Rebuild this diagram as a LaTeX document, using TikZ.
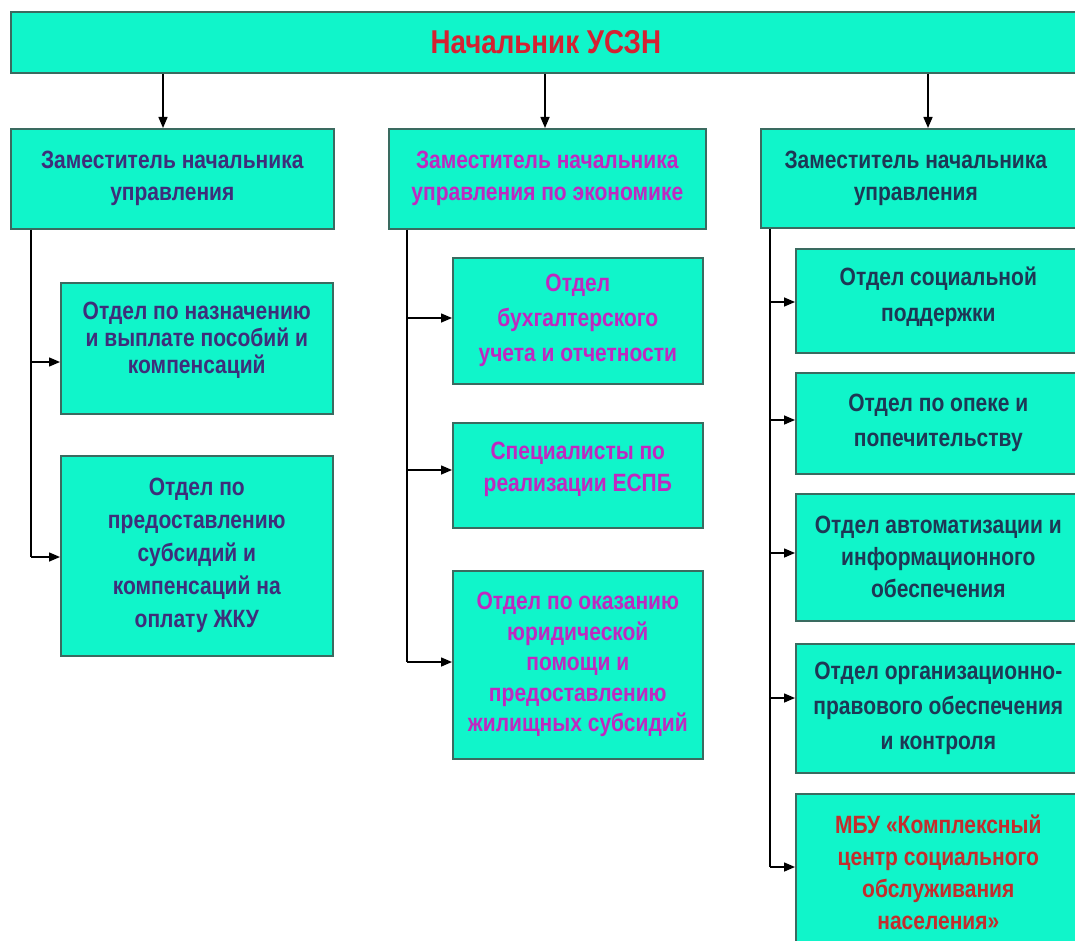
\documentclass[tikz,border=0pt]{standalone}
\usepackage{fontspec}
\setmainfont{Liberation Sans}[FakeStretch=0.84]
\usetikzlibrary{arrows.meta,calc}
\definecolor{fillc}{RGB}{16,245,202}
\definecolor{bordc}{RGB}{58,107,96}
\definecolor{navyc}{RGB}{62,46,122}
\definecolor{slatec}{RGB}{30,55,85}
\definecolor{magc}{RGB}{192,40,192}
\definecolor{redc}{RGB}{212,34,50}
\definecolor{mbuc}{RGB}{195,45,45}
\tikzset{
  box/.style={draw=bordc, line width=1.6pt, fill=fillc, inner sep=0pt,
    anchor=north west, align=center,
    font=\bfseries\fontsize{25}{32}\selectfont},
  lbl/.style={inner sep=0pt, align=center,
    font=\bfseries\fontsize{25}{32}\selectfont},
  conn/.style={line width=1.5pt, black},
  arr/.style={conn, -{Triangle[length=11pt,width=9pt]}}
}
\begin{document}
\begin{tikzpicture}[x=1pt,y=-1pt]
\useasboundingbox (0,0) rectangle (1075,941);
\clip (0,0) rectangle (1075,941);
\fill[white] (0,0) rectangle (1075,941);

% top
\node[box, minimum width=1080pt, minimum height=61pt, text=redc,
  font=\bfseries\fontsize{33}{38}\selectfont] (top) at (10,11) {\hspace*{-10pt}Начальник УСЗН};

% deputies
\node[box, minimum width=323pt, minimum height=100pt, text=navyc] (Z1) at (10,128)
  {Заместитель начальника\\управления};
\node[box, minimum width=317pt, minimum height=100pt, text=magc] (Z2) at (388,128)
  {Заместитель начальника\\управления по экономике};
\node[box, minimum width=320pt, minimum height=99pt, text=slatec] (Z3) at (760,128)
  {\hspace*{-10pt}Заместитель начальника\\\hspace*{-10pt}управления};

% left column
\node[box, minimum width=272pt, minimum height=131pt] (L1) at (60,282) {};
\node[lbl, text=navyc, font=\bfseries\fontsize{25}{27}\selectfont] (L1t)
  at ($(L1.center)+(0,-8)$)
  {Отдел по назначению\\и выплате пособий и\\компенсаций};
\node[box, minimum width=272pt, minimum height=200pt, text=navyc,
  font=\bfseries\fontsize{25}{33}\selectfont] (L2) at (60,455)
  {Отдел по\\предоставлению\\субсидий и\\компенсаций на\\оплату ЖКУ};

% middle column
\node[box, minimum width=250pt, minimum height=126pt, text=magc,
  font=\bfseries\fontsize{25}{35}\selectfont] (M1) at (452,257)
  {Отдел\\бухгалтерского\\учета и отчетности};
\node[box, minimum width=250pt, minimum height=105pt] (M2) at (452,422) {};
\node[lbl, text=magc] (M2t) at ($(M2.center)+(0,-6)$)
  {Специалисты по\\реализации ЕСПБ};
\node[box, minimum width=250pt, minimum height=188pt, text=magc,
  font=\bfseries\fontsize{25}{30.5}\selectfont] (M3) at (452,570)
  {Отдел по оказанию\\юридической\\помощи и\\предоставлению\\жилищных субсидий};

% right column
\node[box, minimum width=285pt, minimum height=104pt] (R1) at (795,248) {};
\node[lbl, text=slatec, font=\bfseries\fontsize{25}{36}\selectfont] (R1t)
  at ($(R1.center)+(0,-4)$)
  {Отдел социальной\\поддержки};
\node[box, minimum width=285pt, minimum height=101pt, text=slatec,
  font=\bfseries\fontsize{25}{35}\selectfont] (R2) at (795,372)
  {Отдел по опеке и\\попечительству};
\node[box, minimum width=285pt, minimum height=127pt, text=slatec] (R3) at (795,493)
  {Отдел автоматизации и\\информационного\\обеспечения};
\node[box, minimum width=285pt, minimum height=129pt, text=slatec,
  font=\bfseries\fontsize{25}{35}\selectfont] (R4) at (795,643)
  {Отдел организационно-\\правового обеспечения\\и контроля};
\node[box, minimum width=285pt, minimum height=158pt, text=mbuc] (R5) at (795,793)
  {МБУ «Комплексный\\центр социального\\обслуживания\\населения»};

% top arrows
\coordinate (d1) at (163,0);
\coordinate (d2) at (545,0);
\coordinate (d3) at (928,0);
\draw[arr] (top.south -| d1) -- (Z1.north -| d1);
\draw[arr] (top.south -| d2) -- (Z2.north -| d2);
\draw[arr] (top.south -| d3) -- (Z3.north -| d3);

% left tree
\coordinate (v1) at (31,557);
\coordinate (h11) at (31,362);
\draw[conn] (Z1.south -| v1) -- (v1);
\draw[arr] (h11) -- (h11 -| L1.west);
\draw[arr] (v1) -- (v1 -| L2.west);

% middle tree
\coordinate (v2) at (407,662);
\coordinate (h21) at (407,318);
\coordinate (h22) at (407,470);
\draw[conn] (Z2.south -| v2) -- (v2);
\draw[arr] (h21) -- (h21 -| M1.west);
\draw[arr] (h22) -- (h22 -| M2.west);
\draw[arr] (v2) -- (v2 -| M3.west);

% right tree
\coordinate (v3) at (770,867);
\coordinate (h31) at (770,302);
\coordinate (h32) at (770,420);
\coordinate (h33) at (770,553);
\coordinate (h34) at (770,698);
\draw[conn] (Z3.south -| v3) -- (v3);
\draw[arr] (h31) -- (h31 -| R1.west);
\draw[arr] (h32) -- (h32 -| R2.west);
\draw[arr] (h33) -- (h33 -| R3.west);
\draw[arr] (h34) -- (h34 -| R4.west);
\draw[arr] (v3) -- (v3 -| R5.west);
\end{tikzpicture}
\end{document}
